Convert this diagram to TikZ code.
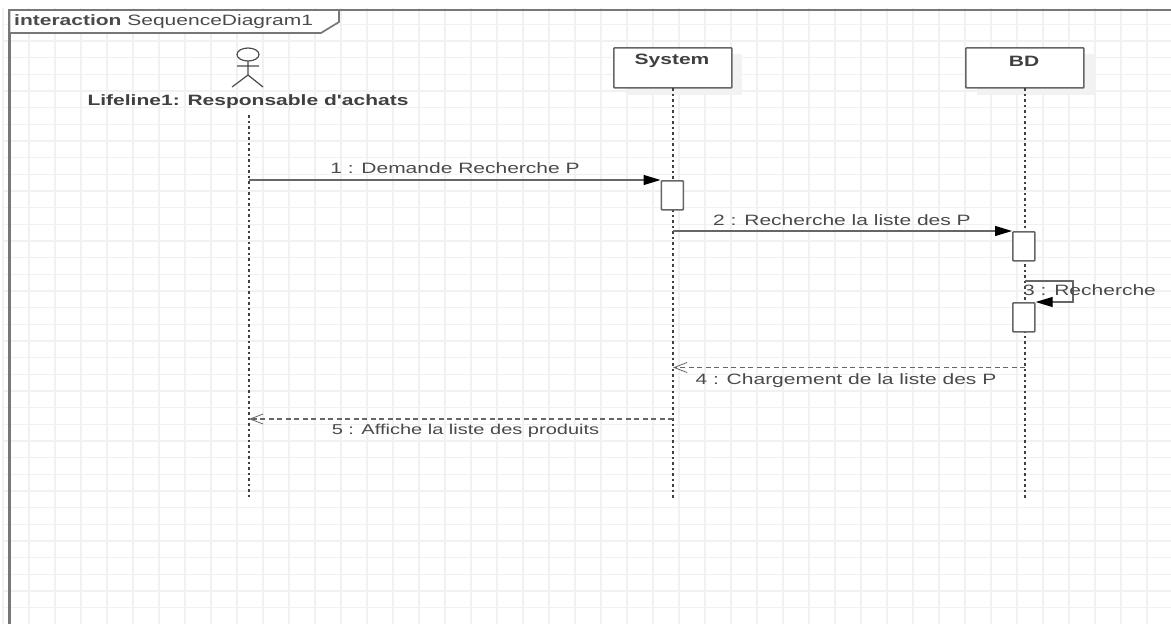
\documentclass[tikz,border=0pt]{standalone}
\usepackage{fontspec}
\defaultfontfeatures[\rmfamily]{}
\setmainfont[FakeStretch=1.4]{Liberation Sans}
\usetikzlibrary{arrows.meta}
\definecolor{gridc}{HTML}{F1F1F1}
\definecolor{framec}{HTML}{777777}
\definecolor{linec}{HTML}{666666}
\definecolor{txt}{HTML}{4A4A4A}
\definecolor{shadowc}{HTML}{F2F2F2}
\tikzset{
 x=1pt,y=-1pt,
 gridline/.style={gridc,line width=1.2pt},
 lifeline/.style={dash pattern=on 2.5pt off 3pt,line width=1.7pt,black!75},
 headbox/.style={draw=linec,line width=1.7pt,fill=white,inner sep=0pt,rounded corners=0.8pt,anchor=north west,minimum width=118pt,minimum height=40pt},
 activation/.style={draw=linec,line width=1.7pt,fill=white,minimum width=22pt,minimum height=29pt,inner sep=0pt,rounded corners=0.8pt,anchor=north west},
 msg/.style={linec,line width=1.2pt},
 syncarrow/.style={msg,-{Triangle[length=17pt,width=10pt,black,fill=black]}},
 retarrow/.style={msg,dash pattern=on 5pt off 3.5pt,-{Straight Barb[length=13pt,width=10pt,line width=0.8pt]}},
 lbl/.style={text=txt,font=\fontsize{15}{17}\selectfont,inner sep=0pt},
 boldlbl/.style={text=black!75,font=\fontsize{15}{17}\selectfont\bfseries,inner sep=0pt},
 actorline/.style={draw=black!70,line width=1.2pt}
}
\begin{document}
\begin{tikzpicture}
\useasboundingbox (0,0) rectangle (1171,624);
\fill[white] (0,0) rectangle (1171,624);
% grid
\foreach \i in {0,...,44} \draw[gridline] ({3+26*\i},8) -- ({3+26*\i},624);
\foreach \i in {0,...,36} \draw[gridline] (3,{24.3+16.67*\i}) -- (1171,{24.3+16.67*\i});
% frame
\draw[framec,line width=2.2pt] (9.5,624) -- (9.5,10) -- (1171,10);
\draw[framec,line width=1.7pt,fill=white] (9.5,10) -- (339,10) -- (339,22) -- (321,33) -- (9.5,33) -- cycle;
\node[lbl,anchor=west] (frametitle) at (14,21.5) {\textbf{interaction} SequenceDiagram1};
% shadows
\fill[shadowc] (626,54) rectangle (742,95);
\fill[shadowc] (977,54) rectangle (1095,95);
% lifelines
\coordinate (a0) at (249,115);
\coordinate (a1) at (249,498);
\coordinate (s1) at (673,498);
\coordinate (b1) at (1025,498);
\node[headbox] (sys) at (613,47) {};
\node[headbox] (bd) at (965,47) {};
\node[boldlbl] (systext) at (672,61) {System};
\node[boldlbl] (bdtext) at (1024,61) {BD};
\draw[lifeline] (673,88) -- (s1);
\draw[lifeline] (1025,88) -- (b1);
\draw[lifeline] (a0) -- (a1);
% actor
\draw[actorline] (248,54.5) ellipse (11 and 6.5);
\draw[actorline] (248,61) -- (248,75) (237,66) -- (259,66) (232,87) -- (248,75) -- (263,87);
\node[boldlbl] (actor) at (248,101.5) {Lifeline1: Responsable d'achats};
% activations
\node[activation] (act1) at (660.5,180) {};
\node[activation] (act2) at (1012,231) {};
\node[activation] (act3) at (1012,302) {};
% messages
\coordinate (m1s) at (249,180);
\coordinate (m2s) at (673,231);
\coordinate (m3s) at (1025,281);
\coordinate (m4s) at (1025,367.5);
\coordinate (m4e) at (673,367.5);
\coordinate (m5s) at (673,419);
\coordinate (m5e) at (249,419);
\draw[syncarrow] (m1s) -- (act1.north west);
\draw[syncarrow] (m2s) -- (act2.north west);
\draw[syncarrow] (m3s) -- (1073,281) -- (1073,302) -- (act3.north east);
\draw[retarrow] (m4s) -- (m4e);
\draw[retarrow] (m5s) -- (m5e);
% labels
\node[lbl] (l1) at (455,168) {1 : Demande Recherche P};
\node[lbl] (l2) at (842,220) {2 : Recherche la liste des P};
\node[lbl,anchor=west] (l3) at (1023,290.5) {3 : Recherche};
\node[lbl] (l4) at (846,380.5) {4 : Chargement de la liste des P};
\node[lbl,font=\fontsize{14.3}{17}\selectfont] (l5) at (465.5,430.5) {5 : Affiche la liste des produits};
\end{tikzpicture}
\end{document}
